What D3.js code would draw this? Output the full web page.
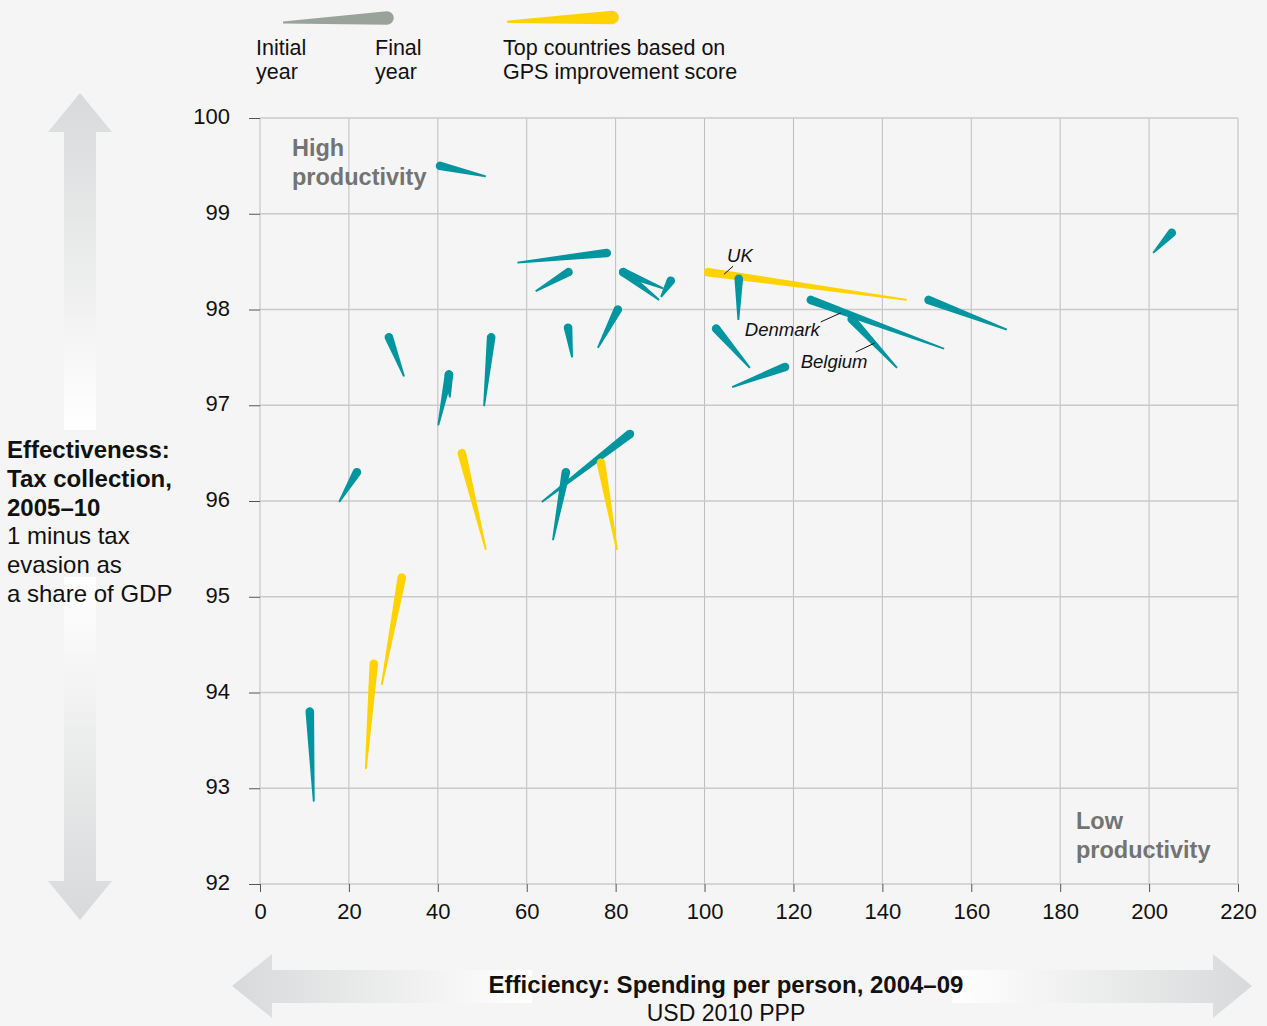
<!DOCTYPE html>
<html>
<head>
<meta charset="utf-8">
<script src="https://cdn.jsdelivr.net/npm/d3@7"></script>
<style>
  html, body { margin: 0; padding: 0; background: #f5f5f5; }
  svg { display: block; }
  svg text { font-family: Arial, Helvetica, sans-serif; }
  .tick text { font-size: 22px; fill: #111; }
</style>
</head>
<body>
<svg id="chart" width="1267" height="1026"></svg>
<script>
// Spending per person (x) and tax collection (y), initial and final year per country
const initialX = [50.8, 57.9, 62.0, 90.7, 89.8, 90.2, 76.0, 70.2, 32.4, 50.4, 40.1, 42.7, 17.8, 50.8, 63.4, 65.9, 80.3, 27.4, 23.8, 12.1, 145.5, 107.6, 153.9, 143.3, 168.0, 110.2, 106.2, 200.9];
const initialY = [99.39, 98.49, 98.19, 98.22, 98.10, 98.13, 97.60, 97.50, 97.30, 96.99, 96.79, 97.08, 95.99, 95.49, 95.99, 95.59, 95.49, 94.08, 93.20, 92.86, 98.10, 97.89, 97.59, 97.39, 97.79, 97.39, 97.19, 98.59];
const finalX = [40.5, 78.0, 69.4, 81.7, 81.7, 92.4, 80.5, 69.3, 29.0, 52.0, 42.5, 42.5, 21.8, 45.4, 83.2, 68.8, 76.7, 31.9, 25.6, 11.2, 100.8, 107.7, 123.9, 133.1, 150.4, 102.6, 118.1, 205.1];
const finalY = [99.50, 98.59, 98.39, 98.39, 98.39, 98.30, 98.00, 97.81, 97.71, 97.71, 97.32, 97.32, 96.30, 96.50, 96.70, 96.30, 96.40, 95.20, 94.30, 93.80, 98.39, 98.32, 98.10, 97.90, 98.10, 97.80, 97.40, 98.80];
// top countries by GPS improvement score
const isTop = [0, 0, 0, 0, 0, 0, 0, 0, 0, 0, 0, 0, 0, 1, 0, 0, 1, 1, 1, 0, 1, 0, 0, 0, 0, 0, 0, 0];
const countryLabels = [
  { index: 20, name: 'UK' },
  { index: 22, name: 'Denmark' },
  { index: 23, name: 'Belgium' },
];

const xTicks = [0, 20, 40, 60, 80, 100, 120, 140, 160, 180, 200, 220];
const yTicks = [92, 93, 94, 95, 96, 97, 98, 99, 100];

const TEAL = '#00959f';
const YELLOW = '#ffd200';
const LEGEND_GREY = '#9aa39a';
const BG = '#f5f5f5';

const svg = d3.select('#chart');
const x = d3.scaleLinear().domain([0, 220]).range([260, 1238]);
const y = d3.scaleLinear().domain([92, 100]).range([884, 118]);

const defs = svg.append('defs');

function fadeGradient(id, vertical, whiteFrom, whiteTo) {
  const g = defs.append('linearGradient')
    .attr('id', id)
    .attr('x1', '0%').attr('y1', '0%')
    .attr('x2', vertical ? '0%' : '100%').attr('y2', vertical ? '100%' : '0%');
  [[0, '#d8d9da'], [whiteFrom, '#ffffff'], [whiteFrom, BG], [whiteTo, BG], [whiteTo, '#ffffff'], [1, '#d8d9da']]
    .forEach(([o, c]) => g.append('stop').attr('offset', o).attr('stop-color', c));
}
fadeGradient('v-arrow', true, 0.407, 0.585);
fadeGradient('h-arrow', false, 0.294, 0.706);

// background double arrows
svg.append('path')
  .attr('fill', 'url(#v-arrow)')
  .attr('d', 'M80,93 L112,132 L96,132 L96,881 L112,881 L80,920 L48,881 L64,881 L64,132 L48,132 Z');
svg.append('path')
  .attr('fill', 'url(#h-arrow)')
  .attr('d', 'M232,986 L272,954 L272,970 L1213,970 L1213,954 L1252,986 L1213,1018 L1213,1003 L272,1003 L272,1018 Z');

// grid
svg.append('g').selectAll('line').data(xTicks).join('line')
  .attr('x1', d => x(d)).attr('x2', d => x(d))
  .attr('y1', y(100)).attr('y2', y(92))
  .attr('stroke', '#bdbdbd').attr('stroke-width', 1);
svg.append('g').selectAll('line').data(yTicks).join('line')
  .attr('x1', x(0)).attr('x2', x(220))
  .attr('y1', d => y(d)).attr('y2', d => y(d))
  .attr('stroke', '#cacaca').attr('stroke-width', 1.5);

// axes
const yAxis = svg.append('g')
  .attr('transform', `translate(${x(0)},0)`)
  .call(d3.axisLeft(y).tickValues(yTicks).tickSize(11).tickPadding(19));
const xAxis = svg.append('g')
  .attr('transform', `translate(0,${y(92)})`)
  .call(d3.axisBottom(x).tickValues(xTicks).tickSize(8).tickPadding(7));
[yAxis, xAxis].forEach(a => {
  a.select('.domain').remove();
  a.selectAll('.tick line').attr('stroke', '#555');
});
xAxis.selectAll('.tick text').attr('dy', '0.9em');
yAxis.selectAll('.tick text').attr('dy', '0.25em');

// tapered wedge: thin end at initial point, rounded thick end at final point
function wedge(x0, y0, x1, y1, r0, r1) {
  const dx = x1 - x0, dy = y1 - y0;
  const len = Math.hypot(dx, dy) || 1;
  const nx = -dy / len, ny = dx / len;
  return `M${x0 + nx * r0},${y0 + ny * r0}` +
    `L${x1 + nx * r1},${y1 + ny * r1}` +
    `A${r1},${r1} 0 0 0 ${x1 - nx * r1},${y1 - ny * r1}` +
    `L${x0 - nx * r0},${y0 - ny * r0}Z`;
}

const rows = initialX.map((_, i) => ({
  i, x0: initialX[i], y0: initialY[i], x1: finalX[i], y1: finalY[i], top: isTop[i],
}));

svg.append('g').selectAll('path').data(rows).join('path')
  .attr('fill', d => d.top ? YELLOW : TEAL)
  .attr('d', d => wedge(x(d.x0), y(d.y0), x(d.x1), y(d.y1), 0.9, 4.3));

// country labels with leader lines
const labelOffsets = {
  UK: { tx: 19, ty: -10, l: [16, 2, 25, -6] },
  Denmark: { tx: -66, ty: 36, l: [10, 22, 30, 13] },
  Belgium: { tx: -51, ty: 49, l: [4, 33, 23, 24] },
};
countryLabels.forEach(({ index, name }) => {
  const px = x(finalX[index]), py = y(finalY[index]);
  const o = labelOffsets[name];
  svg.append('line')
    .attr('x1', px + o.l[0]).attr('y1', py + o.l[1])
    .attr('x2', px + o.l[2]).attr('y2', py + o.l[3])
    .attr('stroke', '#111').attr('stroke-width', 1);
  svg.append('text')
    .attr('x', px + o.tx).attr('y', py + o.ty)
    .attr('font-size', 18.5).style('font-style', 'italic').attr('fill', '#111')
    .text(name);
});

// multi-line text helper; lines are strings or {text, bold}
function multiline(tx, ty, lines, size, lineH, fill, allBold) {
  const t = svg.append('text').attr('x', tx).attr('y', ty)
    .attr('font-size', size).attr('fill', fill);
  lines.forEach((ln, k) => {
    const isObj = typeof ln === 'object';
    const bold = allBold || (isObj && ln.bold === true);
    t.append('tspan').attr('x', tx).attr('dy', k === 0 ? 0 : lineH)
      .style('font-weight', bold ? 'bold' : 'normal')
      .text(isObj ? ln.text : ln);
  });
  return t;
}
multiline(292, 156, ['High', 'productivity'], 23.5, 29, '#737373', true);
multiline(1076, 829, ['Low', 'productivity'], 23.5, 29, '#737373', true);

// y axis title
multiline(7, 458, [
  { text: 'Effectiveness:', bold: true },
  { text: 'Tax collection,', bold: true },
  { text: '2005–10', bold: true },
  '1 minus tax', 'evasion as', 'a share of GDP',
], 24, 28.8, '#111', false);

// x axis title
svg.append('text').attr('x', 726).attr('y', 993).attr('text-anchor', 'middle')
  .attr('font-size', 24).style('font-weight', 'bold').attr('fill', '#111')
  .text('Efficiency: Spending per person, 2004–09');
svg.append('text').attr('x', 726).attr('y', 1021).attr('text-anchor', 'middle')
  .attr('font-size', 23).attr('fill', '#111')
  .text('USD 2010 PPP');

// legend
const legend = svg.append('g');
legend.append('path').attr('fill', LEGEND_GREY).attr('d', wedge(283, 22.5, 387, 18, 1.1, 6.8));
legend.append('path').attr('fill', YELLOW).attr('d', wedge(507, 21.8, 612, 17.5, 1.1, 6.8));
multiline(256, 55, ['Initial', 'year'], 21.5, 24, '#111', false);
multiline(375, 55, ['Final', 'year'], 21.5, 24, '#111', false);
multiline(503, 55, ['Top countries based on', 'GPS improvement score'], 21.5, 24, '#111', false);
</script>
</body>
</html>
